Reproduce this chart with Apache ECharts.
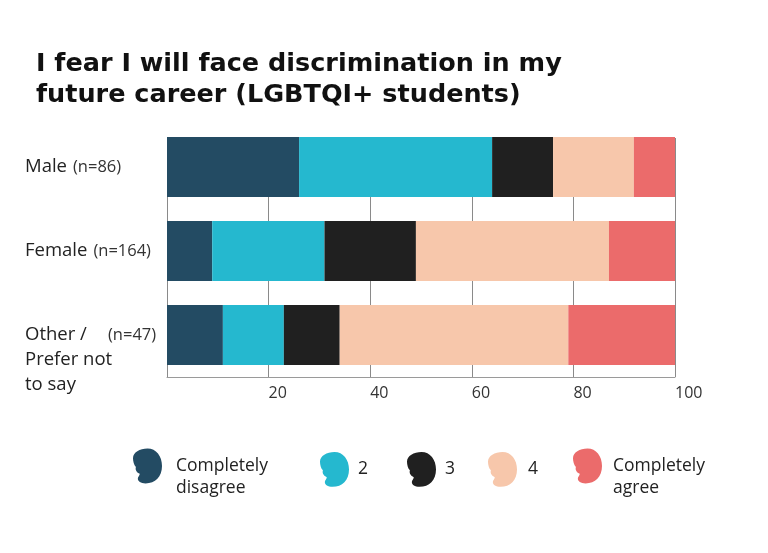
<!DOCTYPE html>
<html>
<head>
<meta charset="utf-8">
<script src="https://cdn.jsdelivr.net/npm/echarts@6/dist/echarts.min.js"></script>
<style>html,body{margin:0;padding:0;background:#fff;}#c{width:768px;height:553px;}</style>
</head>
<body>
<div id="c"></div>
<script>
const titleText = 'I fear I will face discrimination in my\nfuture career (LGBTQI+ students)';
const groups = ['Male', 'Female', 'Other /\nPrefer not\nto say'];
const groupN = ['(n=86)', '(n=164)', '(n=47)'];
const seriesNames = ['Completely disagree', '2', '3', '4', 'Completely agree'];
const s1 = [26.0, 8.9, 11.0];
const s2 = [38.0, 22.1, 12.0];
const s3 = [12.0, 18.0, 11.0];
const s4 = [15.9, 38.0, 45.0];
const s5 = [8.1, 13.0, 21.0];
const xTicks = [0, 20, 40, 60, 80, 100];
const colors = ['#234b63', '#25b8cf', '#202020', '#f7c7ab', '#eb6b6b'];

const values = [s1, s2, s3, s4, s5];
const icon = 'path://M15,0 C24,0 30,8 30,18 C30,29 23,36 13,36 C8,36 5,34 5,31 C5,29 7,28 7,26 C4,25 2,22 3,19 C1,17 0,13 0,10 C0,4 7,0 15,0 Z';
const legendLeft = [133, 320, 407, 488, 573];
const legendPad = [9, 4, 4, 6, 6];

const chart = echarts.init(document.getElementById('c'), null, {renderer: 'canvas'});

function yLabel(val, idx) {
  const i = groups.indexOf(val);
  const lines = val.split('\n');
  if (lines.length === 1) {
    return '{a|' + lines[0] + '}{n|' + groupN[i] + '}';
  }
  let s = '{e| }\n{e| }\n{o|' + lines[0] + '}{m|' + groupN[i] + '}';
  for (let k = 1; k < lines.length; k++) s += '\n{a|' + lines[k] + '}';
  return s;
}

const option = {
  backgroundColor: '#fff',
  animation: false,
  title: {
    text: titleText,
    left: 31, top: 44,
    textStyle: {fontFamily: 'DejaVu Sans', fontWeight: 'bold', fontSize: 25.5, lineHeight: 31, color: '#111'}
  },
  grid: [
    {left: 167, right: 93, top: 125, bottom: 176},
    {left: 167, right: 93, top: 138, bottom: 176}
  ],
  xAxis: [
    {gridIndex: 0, type: 'value', min: 0, max: 100, show: false},
    {gridIndex: 1, type: 'value', min: 0, max: 100, interval: 20,
      axisLine: {show: true, lineStyle: {color: '#9a9a9a', width: 1}},
      axisTick: {show: false},
      splitLine: {show: true, lineStyle: {color: '#8a8a8a', width: 1}},
      axisLabel: {
        showMinLabel: false, align: 'left', margin: 8,
        fontFamily: 'Open Sans', fontSize: 16, color: '#333',
        formatter: v => xTicks.indexOf(v) >= 0 ? String(v) : ''
      }
    }
  ],
  yAxis: [
    {gridIndex: 0, type: 'category', inverse: true, data: groups,
      axisLine: {show: false}, axisTick: {show: false},
      axisLabel: {
        align: 'left', margin: 142, color: '#222', fontFamily: 'Open Sans',
        formatter: yLabel,
        rich: {
          a: {fontFamily: 'Open Sans', fontSize: 18.5, color: '#222', lineHeight: 25},
          o: {fontFamily: 'Open Sans', fontSize: 18.5, color: '#222', lineHeight: 25, width: 83},
          n: {fontFamily: 'Open Sans', fontSize: 16.5, color: '#333', lineHeight: 25, padding: [0, 0, 0, 6]},
          m: {fontFamily: 'Open Sans', fontSize: 16.5, color: '#333', lineHeight: 25},
          e: {fontSize: 14, lineHeight: 25}
        }
      }
    },
    {gridIndex: 1, type: 'value', min: 0, max: 1, show: false}
  ],
  legend: seriesNames.map((nm, i) => ({
    data: [nm],
    left: legendLeft[i], top: nm.indexOf(' ') >= 0 ? 433 : 452,
    padding: 0,
    itemWidth: 29, itemHeight: 37,
    icon: icon,
    formatter: n => n.indexOf(' ') >= 0 ? ' \n' + n.replace(' ', '\n') : n,
    textStyle: {fontFamily: 'Open Sans', fontSize: 17.5, color: '#222', lineHeight: 22, padding: [0, 0, 0, legendPad[i]]}
  })),
  series: seriesNames.map((nm, i) => ({
    name: nm, type: 'bar', stack: 'total',
    xAxisIndex: 0, yAxisIndex: 0,
    barWidth: 60,
    itemStyle: {color: colors[i]},
    data: values[i]
  }))
};
chart.setOption(option);
</script>
</body>
</html>
